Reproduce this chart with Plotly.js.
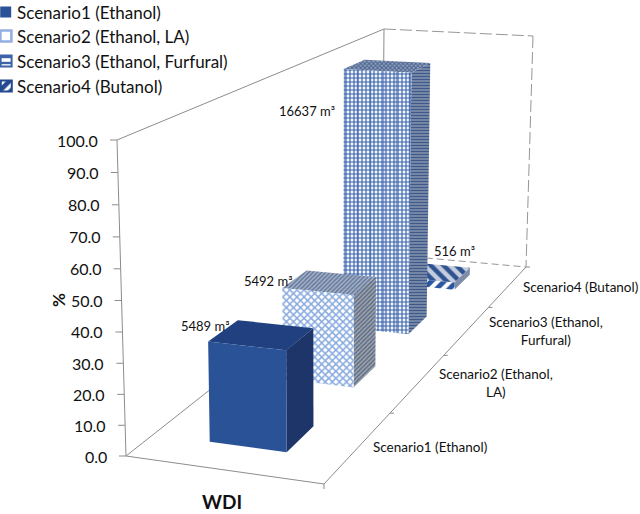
<!DOCTYPE html>
<html><head><meta charset="utf-8">
<script src="https://cdn.plot.ly/plotly-3.0.1.min.js"></script>
<style>html,body{margin:0;padding:0;background:#fff}#c{width:640px;height:514px}</style></head>
<body><div id="c"></div>
<script>
// ---- data ----
const seriesNames = ["Scenario1 (Ethanol)","Scenario2 (Ethanol, LA)","Scenario3 (Ethanol, Furfural)","Scenario4 (Butanol)"];
const categoryLabels = ["Scenario1 (Ethanol)","Scenario2 (Ethanol,<br>LA)","Scenario3 (Ethanol,<br>Furfural)","Scenario4 (Butanol)"];
const percentValues = [33.0, 33.0, 100.0, 3.1];
const volumeValues = [5489, 5492, 16637, 516];
const valueTicks = [0,10,20,30,40,50,60,70,80,90,100];
const groupTitle = "WDI";
const valueTitle = "%";

// ---- oblique view of the 3-D chart box (page pixels of its corners) ----
const floorQuad = [[126,456],[324,484],[526,267],[382,254]];
const roofQuad  = [[117,140],[324,154],[533,36],[384,29]];
function quadMap(q){
  const [p0,p1,p2,p3]=q;
  const dx1=p1[0]-p2[0],dx2=p3[0]-p2[0],sx=p0[0]-p1[0]+p2[0]-p3[0];
  const dy1=p1[1]-p2[1],dy2=p3[1]-p2[1],sy=p0[1]-p1[1]+p2[1]-p3[1];
  const den=dx1*dy2-dx2*dy1, g=(sx*dy2-dx2*sy)/den, h=(dx1*sy-sx*dy1)/den;
  const a=p1[0]-p0[0]+g*p1[0], b=p3[0]-p0[0]+h*p3[0];
  const d=p1[1]-p0[1]+g*p1[1], e=p3[1]-p0[1]+h*p3[1];
  return (u,v)=>{const w=g*u+h*v+1;return [(a*u+b*v+p0[0])/w,(d*u+e*v+p0[1])/w];};
}
const floorMap=quadMap(floorQuad), roofMap=quadMap(roofQuad);
function project(u,v,pct){
  const z=pct/100, s=0.969*z/(1-0.031*z);
  const f=floorMap(u,v), t=roofMap(u,v);
  return [f[0]+(t[0]-f[0])*s, f[1]+(t[1]-f[1])*s];
}
function poly(points,style,name){
  const pts=points.map(p=>project(p[0],p[1],p[2]));
  pts.push(pts[0]);
  return Object.assign({type:'scatter',mode:'lines',x:pts.map(p=>p[0]),y:pts.map(p=>p[1]),
    fill:'toself',line:{width:0},hoverinfo:'skip',showlegend:false,name:name},style);
}
function edge(a,b,dash,color){
  const p=project(a[0],a[1],a[2]),q=project(b[0],b[1],b[2]);
  return {type:'scatter',mode:'lines',x:[p[0],q[0]],y:[p[1],q[1]],
    line:{color:color||'#8c8c8c',width:1,dash:dash||'solid'},hoverinfo:'skip',showlegend:false};
}
function hatch(shape,fg,bg,size,sol){
  return {fillcolor:bg,fillpattern:{shape:shape,fgcolor:fg,bgcolor:bg,size:size,solidity:sol,fillmode:'replace'}};
}
const faceStyles=[
 {front:{fillcolor:'#2a5297'},top:{fillcolor:'#20407f'},side:{fillcolor:'#1d3569'}},
 {front:hatch('x','#88aadf','#ffffff',5,0.5),top:hatch('/','#65799c','#a6b3c8',3,0.5),side:hatch('/','#5f6b80','#a0a8b5',3,0.5)},
 {front:hatch('+','#3a62aa','#f4f7fc',4,0.5),top:hatch('x','#45608f','#8f9eb8',3,0.5),side:hatch('-','#3e5a8c','#8795ad',3,0.5)},
 {front:hatch('/','#2a55a0','#ffffff',9,0.55),top:hatch('\\','#2f5291','#c3cddd',9,0.5),side:{fillcolor:'#7f8da6'}}
];
const streaks={fillcolor:'rgba(0,0,0,0)',fillpattern:{shape:'|',fgcolor:'#2c58a6',bgcolor:'rgba(0,0,0,0)',size:13,solidity:0.12,fillmode:'overlay'}};
const x0=0.3,x1=0.7,depth=0.094,lead=0.078,slot=0.25;
const traces=[];
// box lines
traces.push(edge([0,0,0],[0,0,100]));
traces.push(edge([0,0,100],[0,1,100]));
traces.push(edge([0,1,100],[0,1,0]));
traces.push(edge([0,0,0],[0,1,0]));
traces.push(edge([0,0,0],[1,0,0]));
traces.push(edge([1,0,0],[1,1,0]));
traces.push(edge([0,1,100],[1,1,100],'12px,4px','#969696'));
traces.push(edge([1,1,100],[1,1,0],'12px,4px','#969696'));
traces.push(edge([0,1,0],[1,1,0],'7px,4px','#969696'));
// ticks on the value axis
valueTicks.forEach(t=>{const p=project(0,0,t);
  traces.push({type:'scatter',mode:'lines',x:[p[0]-7,p[0]],y:[p[1],p[1]],line:{color:'#8c8c8c',width:1},hoverinfo:'skip',showlegend:false});});
// ticks on the category axis
[0,1,2,3,4].forEach(i=>{const p=project(1,i*slot,0);
  traces.push({type:'scatter',mode:'lines',x:[p[0],p[0]+(i?4:0)],y:[p[1],p[1]+(i?0:5)],line:{color:'#8c8c8c',width:1},hoverinfo:'skip',showlegend:false});});
// bars, far to near
for(let i=percentValues.length-1;i>=0;i--){
  const v=percentValues[i],y0=lead+i*slot,y1=y0+depth,s=faceStyles[i];
  traces.push(poly([[x0,y1,v],[x1,y1,v],[x1,y0,v],[x0,y0,v]],s.top,seriesNames[i]));
  traces.push(poly([[x1,y0,0],[x1,y1,0],[x1,y1,v],[x1,y0,v]],s.side,seriesNames[i]));
  traces.push(poly([[x0,y0,0],[x1,y0,0],[x1,y0,v],[x0,y0,v]],s.front,seriesNames[i]));
  if(i===2) traces.push(poly([[x0,y0,0],[x1,y0,0],[x1,y0,v],[x0,y0,v]],streaks,seriesNames[i]));
}
// legend keys and their labels
const legendMarkers=[
 {color:'#2a5297',line:{width:0}},
 {color:'#ffffff',line:{color:'#92aee0',width:2.5}},
 {color:'#ffffff',line:{color:'#3c63a8',width:2},pattern:{shape:'-',fgcolor:'#3c63a8',bgcolor:'#ffffff',size:6,solidity:0.4}},
 {color:'#ffffff',line:{color:'#234a90',width:2},pattern:{shape:'/',fgcolor:'#234a90',bgcolor:'#ffffff',size:8,solidity:0.6}}
];
const legendRows=[12,36,61,86];
seriesNames.forEach((n,i)=>traces.push({type:'bar',x:[6],width:[11],base:[legendRows[i]-5.5],y:[11],name:n,marker:legendMarkers[i],hoverinfo:'skip',showlegend:false}));

const labelFont={family:'Lato, Carlito, sans-serif',size:13.5,color:'#111'};
const valueLabelFont={family:'Lato, Carlito, sans-serif',size:13,color:'#111'};
const annotations=[];
function note(x,y,text,font,extra){annotations.push(Object.assign({xref:'x',yref:'y',x:x,y:y,text:text,showarrow:false,font:font,xanchor:'center',yanchor:'middle'},extra||{}));}
seriesNames.forEach((n,i)=>note(15,legendRows[i],n,{family:'Lato, Carlito, sans-serif',size:17,color:'#111'},{xanchor:'left'}));
valueTicks.forEach(t=>{const p=project(0,0,t);
  note(p[0]-17,p[1],t.toFixed(1),{family:'Lato, sans-serif',size:16,color:'#111'},{xanchor:'right'});});
const categorySpots=[[430,447],[496,383],[546,331],[580,287]];
categoryLabels.forEach((c,i)=>note(categorySpots[i][0],categorySpots[i][1],c,labelFont));
const valueSpots=[[205,326],[268,281],[307,111],[454,251]];
volumeValues.forEach((v,i)=>note(valueSpots[i][0],valueSpots[i][1],v+' m³',valueLabelFont));
note(222,501,groupTitle,{family:'Lato, sans-serif',size:19,color:'#111',weight:700},{});
note(58,300,'<b>'+valueTitle+'</b>',{family:'Lato, sans-serif',size:17,color:'#111'},{textangle:-90});

Plotly.newPlot('c',traces,{
  width:640,height:514,margin:{l:0,r:0,t:0,b:0,autoexpand:false},paper_bgcolor:'#fff',plot_bgcolor:'#fff',
  xaxis:{range:[0,640],visible:false,fixedrange:true},
  yaxis:{range:[514,0],visible:false,fixedrange:true},
  showlegend:false,
  annotations:annotations
},{displayModeBar:false,staticPlot:true});
</script></body></html>
